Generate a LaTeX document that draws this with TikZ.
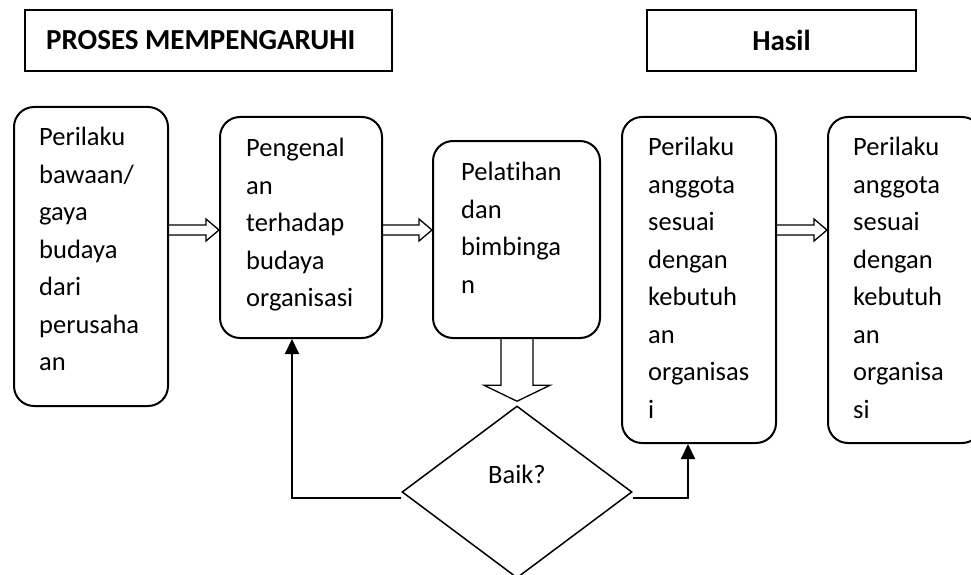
\documentclass[tikz,border=0pt]{standalone}
\usepackage{fontspec}
\setmainfont{Carlito}[Ligatures=NoCommon]
\usetikzlibrary{calc,shapes.geometric,arrows.meta}
\tikzset{balik/.style = {line width=2pt, -{Triangle[length=15pt,width=14pt]}}}

\begin{document}
\begin{tikzpicture}[x=1pt,y=-1pt,
    kotak/.style={draw,line width=2pt,rounded corners=20pt},
    judul/.style={draw,line width=2pt,minimum height=61pt,
        font={\fontsize{29}{34}\selectfont\bfseries}},
    isi/.style={anchor=north west,align=left,inner sep=0pt,
        font={\fontsize{26.5}{37.5}\selectfont},
        execute at begin node={\rule{0pt}{20pt}}},
    blok/.style={draw,line width=1.3pt,line join=miter},
    ]
    % Page size
    \useasboundingbox (0,0) rectangle (971,575);

    % Headings
    \node[judul,minimum width=367pt] (jdlProses) at (208.5,40.5) {};
    \node[anchor=west,inner sep=0pt,font={\fontsize{29}{34}\selectfont\bfseries}] (tProses) at ([xshift=22pt]jdlProses.west) {PROSES MEMPENGARUHI};
    \node[judul,minimum width=269pt] (jdlHasil) at (781.5,40.5) {Hasil};

    % Rounded boxes
    \node[kotak,minimum width=154pt,minimum height=299pt] (kA) at (91,256.5) {};
    \node[kotak,minimum width=162pt,minimum height=221pt] (kB) at (301,227.5) {};
    \node[kotak,minimum width=167pt,minimum height=197pt] (kC) at (516.5,239.5) {};
    \node[kotak,minimum width=154pt,minimum height=326pt] (kD) at (699,280) {};
    \node[kotak,minimum width=154pt,minimum height=326pt] (kE) at (905,280) {};

    % Box texts (first baseline about 41pt under the top edge)
    \node[isi] (tA) at ([xshift=26pt,yshift=-21pt]kA.north west) {Perilaku\\bawaan/\\gaya\\budaya\\dari\\perusaha\\an};
    \node[isi] (tB) at ([xshift=27pt,yshift=-22pt]kB.north west) {Pengenal\\an\\terhadap\\budaya\\organisasi};
    \node[isi] (tC) at ([xshift=29pt,yshift=-22pt]kC.north west) {Pelatihan\\dan\\bimbinga\\n};
    \node[isi] (tD) at ([xshift=27pt,yshift=-21pt]kD.north west) {Perilaku\\anggota\\sesuai\\dengan\\kebutuh\\an\\organisas\\i};
    \node[isi] (tE) at ([xshift=26pt,yshift=-21pt]kE.north west) {Perilaku\\anggota\\sesuai\\dengan\\kebutuh\\an\\organisa\\si};

    % Decision
    \node[draw,diamond,line width=1.5pt,minimum width=230pt,minimum height=172pt,inner sep=0pt] (keputusan) at (517,492) {};
    \node[anchor=base,font={\fontsize{26.5}{37.5}\selectfont}] (tBaik) at (517,483) {Baik?};

    % Hollow arrows between boxes
    \foreach \dari/\ke in {kA/kB,kB/kC,kD/kE}{
        \coordinate (p) at (\dari.east |- 0,230);
        \coordinate (q) at (\ke.west |- 0,230);
        \draw[blok] ($(p)+(0,-5)$) -- ($(q)+(-13,-5)$) -- ($(q)+(-13,-11)$) -- (q)
            -- ($(q)+(-13,11)$) -- ($(q)+(-13,5)$) -- ($(p)+(0,5)$);
    }

    % Hollow arrow down to decision
    \coordinate (turun) at ([yshift=4pt]keputusan.north);
    \draw[blok] ($(kC.south -| turun)+(-16,0)$) -- ($(turun)+(-16,-16)$) -- ($(turun)+(-33,-16)$) -- (turun)
        -- ($(turun)+(33,-16)$) -- ($(turun)+(16,-16)$) -- ($(kC.south -| turun)+(16,0)$);

    % Feedback lines
    \draw[balik] ([yshift=-6pt]keputusan.west) -| ([xshift=-9pt]kB.south);
    \draw[balik] ([yshift=-6pt]keputusan.east) -| ([xshift=-11pt]kD.south);
\end{tikzpicture}
\end{document}
